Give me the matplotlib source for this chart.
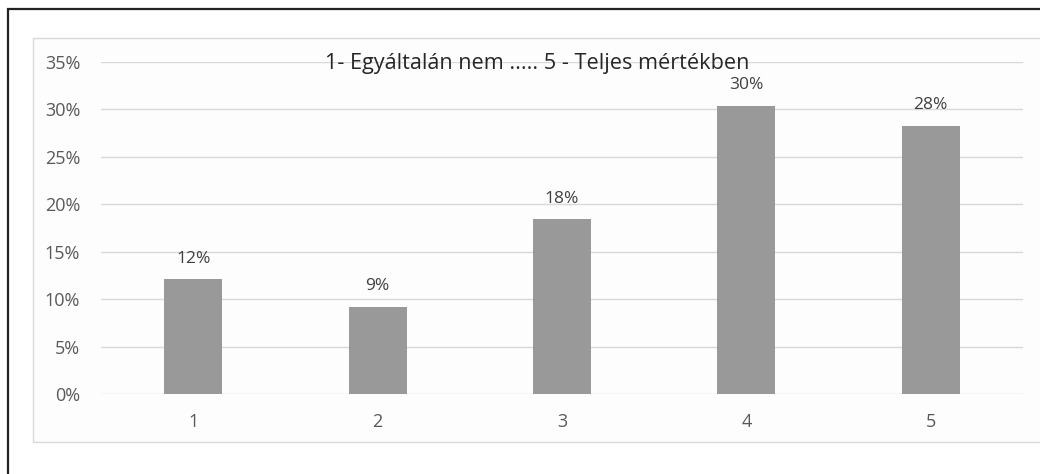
import numpy as np
from matplotlib import pyplot as plt
from matplotlib.patches import Rectangle

plt.rcParams['font.family'] = ['Open Sans', 'DejaVu Sans']

# data
categories = ['1', '2', '3', '4', '5']
shares     = [12.1, 9.2, 18.4, 30.4, 28.3]   # percent
yticks     = [0, 5, 10, 15, 20, 25, 30, 35]
title      = '1- Egyáltalán nem ..... 5 - Teljes mértékben'

W, H = 1040, 474
fig = plt.figure(figsize=(W/100, H/100), dpi=100)

# outer black frame (runs off the right and bottom edges)
fig.patches.append(Rectangle((8/W, -0.1), 1.2, 1 - 9/H + 0.1, transform=fig.transFigure,
                             fill=False, ec='#222222', lw=1.6, zorder=-2))
# light grey chart-area frame
fig.patches.append(Rectangle((33/W, 1 - 442/H), 1.2, (442 - 38)/H, transform=fig.transFigure,
                             fill=True, fc='#fdfdfd', ec='#d9d9d9', lw=1.0, zorder=-1))

ax = fig.add_axes([101/W, 1 - 394/H, (1023 - 101)/W, (394 - 62)/H])
ax.patch.set_visible(False)
ax.set_zorder(2)

x = np.arange(len(categories))
bars = ax.bar(x, shares, width=0.314, color='#999999', zorder=3)

for xi, v in zip(x, shares):
    ax.annotate('%d%%' % round(v), (xi, v), xytext=(0, 9), textcoords='offset points',
                ha='center', va='bottom', fontsize=12.5, color='#404040')

ax.set_xlim(-0.5, 4.5)
ax.set_ylim(0, 35)
ax.set_yticks(yticks)
ax.set_yticklabels(['%d%%' % t for t in yticks])
ax.set_xticks(x)
ax.set_xticklabels(categories)
ax.tick_params(length=0, labelsize=13, labelcolor='#595959')
ax.tick_params(axis='y', pad=15)
ax.tick_params(axis='x', pad=14)
ax.grid(axis='y', color='#d9d9d9', lw=1.0, zorder=0)
for s in ax.spines.values():
    s.set_visible(False)

fig.text(537/W, 1 - 63/H, title, ha='center', va='center', fontsize=15.6,
         color='#262626', zorder=5)

fig.savefig('out.png', dpi=100)
